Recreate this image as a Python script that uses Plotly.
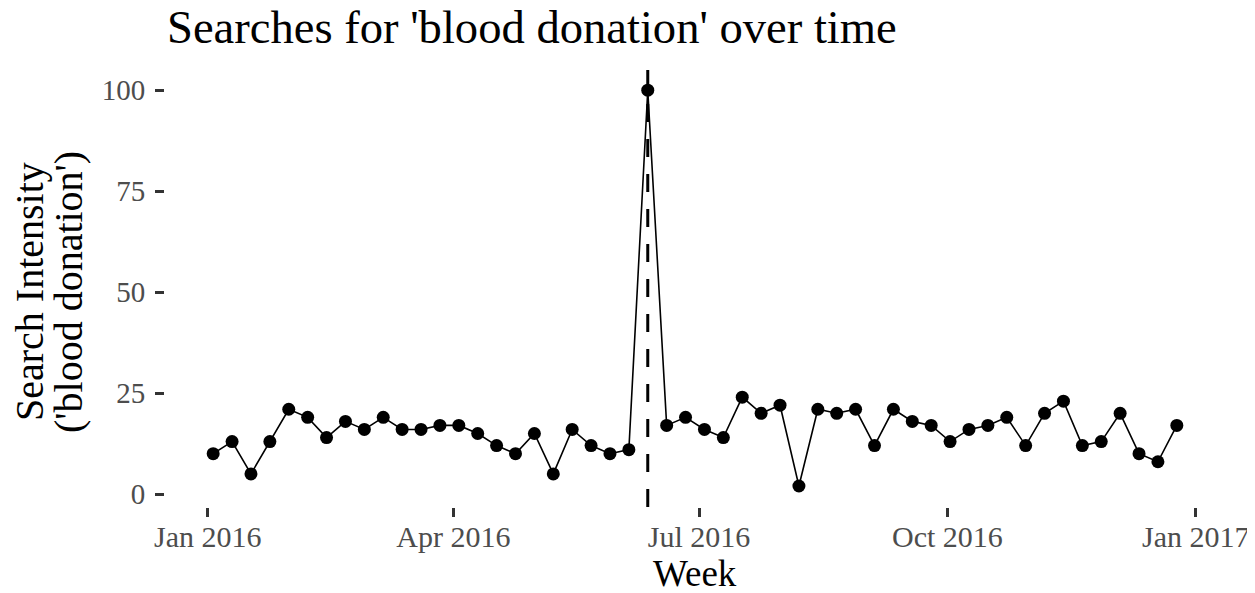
import pandas as pd
import plotly.graph_objects as go

# ---- data ----
start_week = "2016-01-03"
n_weeks = 52
weeks = pd.date_range(start_week, periods=n_weeks, freq="7D")
search_intensity = [10, 13, 5, 13, 21, 19, 14, 18, 16, 19,
                    16, 16, 17, 17, 15, 12, 10, 15, 5, 16,
                    12, 10, 11, 100, 17, 19, 16, 14, 24, 20,
                    22, 2, 21, 20, 21, 12, 21, 18, 17, 13,
                    16, 17, 19, 12, 20, 23, 12, 13, 20, 10,
                    8, 17]
event_date = "2016-06-12"
x_tick_vals = ["2016-01-01", "2016-04-01", "2016-07-01", "2016-10-01", "2017-01-01"]
x_tick_text = ["Jan 2016", "Apr 2016", "Jul 2016", "Oct 2016", "Jan 2017"]
y_tick_vals = [0, 25, 50, 75, 100]
y_tick_text = ["0", "25", "50", "75", "100"]

title_text = "Searches for 'blood donation' over time"
x_title = "Week"
y_title_lines = ["Search Intensity", "('blood donation')"]

FONT = "Liberation Serif"

# ggplot-like horizontal expansion
span = weeks[-1] - weeks[0]
x_range = [weeks[0] - span * 0.05, weeks[-1] + span * 0.05]
y_range = [-3.2, 105]

# page has an 8px body margin -> figure is 1247x585 inside the 1255x593 window
W, H = 1247, 585
L, T = 157, 62
plot_right, plot_bottom = 1217, 499
R, B = W - plot_right, H - plot_bottom
plot_w = plot_right - L
plot_h = plot_bottom - T

fig = go.Figure()
fig.add_trace(go.Scatter(
    x=weeks, y=search_intensity, mode="lines+markers",
    line=dict(color="black", width=1.6),
    marker=dict(color="black", size=13),
    showlegend=False, hoverinfo="x+y",
))

fig.add_shape(type="line", xref="x", yref="paper",
              x0=event_date, x1=event_date, y0=0, y1=1,
              line=dict(color="black", width=3, dash="18px,17px"))

fig.update_layout(
    width=W, height=H,
    margin=dict(l=L, r=R, t=T, b=B, autoexpand=False),
    paper_bgcolor="white", plot_bgcolor="white",
    font=dict(family=FONT, color="black"),
    title=dict(text=title_text, font=dict(family=FONT, size=46.6, color="black"),
               x=159 / W, xref="container", xanchor="left",
               y=1 - 19 / H, yref="container", yanchor="middle"),
    xaxis=dict(type="date", range=x_range, tickvals=x_tick_vals, ticktext=x_tick_text,
               showgrid=False, zeroline=False, showline=False,
               ticks="outside", ticklen=9, tickwidth=2.5, tickcolor="#333333",
               tickfont=dict(family=FONT, size=30, color="#4D4D4D"),
               ticklabelstandoff=-6, automargin=False),
    yaxis=dict(range=y_range, tickvals=y_tick_vals, ticktext=y_tick_text,
               showgrid=False, zeroline=False, showline=False,
               ticks="outside", ticklen=9, tickwidth=2.5, tickcolor="#333333",
               tickfont=dict(family=FONT, size=29, color="#4D4D4D"),
               ticklabelstandoff=4, automargin=False),
)

fig.add_annotation(text=x_title, xref="paper", yref="paper",
                   x=0.5, y=(plot_bottom - 565) / plot_h, xanchor="center", yanchor="middle",
                   showarrow=False, font=dict(family=FONT, size=37, color="black"))
for px, line in zip([21, 60], y_title_lines):
    fig.add_annotation(text=line, xref="paper", yref="paper",
                       x=(px - L) / plot_w, y=(plot_bottom - 284) / plot_h,
                       xanchor="center", yanchor="middle",
                       textangle=-90, showarrow=False,
                       font=dict(family=FONT, size=40, color="black"))

fig.write_html("out.html")
